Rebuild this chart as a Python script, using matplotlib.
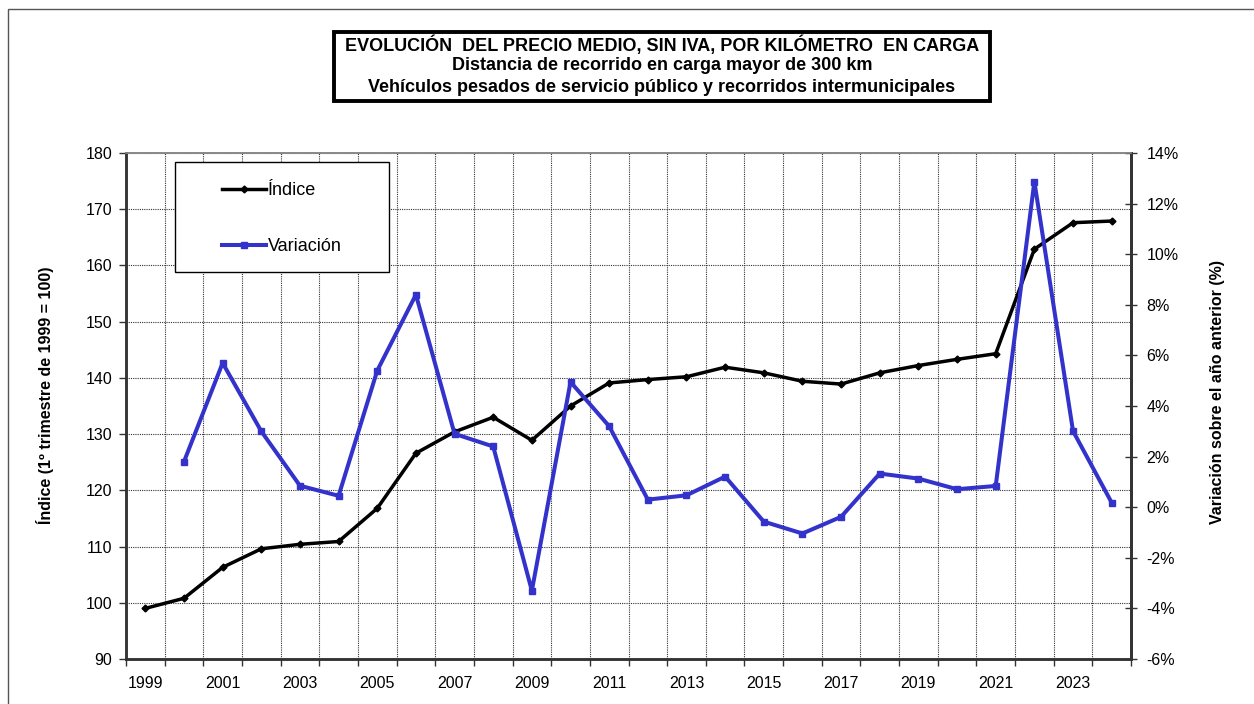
import matplotlib
matplotlib.use("Agg")
import matplotlib.pyplot as plt
from matplotlib import font_manager
from matplotlib.patches import Rectangle
from matplotlib.ticker import FuncFormatter, FixedLocator
import numpy as np

years = list(range(1999, 2025))
indice = [99.0, 100.8, 106.3, 109.6, 110.4, 110.9, 116.8, 126.6, 130.4, 133.0,
          128.9, 135.0, 139.1, 139.7, 140.2, 141.9, 140.9, 139.4, 138.9, 140.9,
          142.2, 143.3, 144.3, 162.9, 167.6, 167.9]
variacion = [np.nan, 1.8, 5.7, 3.0, 0.85, 0.45, 5.4, 8.4, 2.9, 2.4,
             -3.3, 4.95, 3.2, 0.3, 0.47, 1.21, -0.57, -1.04, -0.38, 1.33,
             1.13, 0.71, 0.84, 12.87, 3.01, 0.18]
title_lines = ["EVOLUCIÓN  DEL PRECIO MEDIO, SIN IVA, POR KILÓMETRO  EN CARGA",
               "Distancia de recorrido en carga mayor de 300 km",
               "Vehículos pesados de servicio público y recorridos intermunicipales"]
ylabel_left = "Índice (1º trimestre de 1999 = 100)"
ylabel_right = "Variación sobre el año anterior (%)"


def has_font(name):
    try:
        font_manager.findfont(name, fallback_to_default=False)
        return True
    except Exception:
        return False

base = "Liberation Sans" if has_font("Liberation Sans") else "DejaVu Sans"
narrow = "Liberation Sans Narrow" if has_font("Liberation Sans Narrow") else base
plt.rcParams['font.family'] = [base, 'DejaVu Sans']

W, H = 1254, 704
fig = plt.figure(figsize=(W / 100, H / 100), dpi=100)

# outer chart border
fig.patches.append(Rectangle((8 / W, -0.1), 1.2, 1.1 - 9 / H, transform=fig.transFigure,
                             fill=False, edgecolor="#555555", linewidth=1.0))

left, right, top, bottom = 126, 1131, 153, 659
ax = fig.add_axes([left / W, 1 - bottom / H, (right - left) / W, (bottom - top) / H])
ax2 = ax.twinx()

x = np.arange(len(years))

ax.plot(x, indice, color="black", lw=2.5, marker="D", ms=3.5, label="Índice", zorder=3)
ax2.plot(x, variacion, color="#3333CC", lw=2.9, marker="s", ms=4.5, label="Variación", zorder=3)

ax.set_xlim(-0.5, len(years) - 0.5)
ax.set_ylim(90, 180)
ax.set_yticks(np.arange(90, 181, 10))
ax2.set_ylim(-6, 14)
ax2.set_yticks(np.arange(-6, 15, 2))
ax2.yaxis.set_major_formatter(FuncFormatter(lambda v, p: f"{v:.0f}%"))

ax.set_xticks(x[::2])
ax.set_xticklabels([str(y) for y in years[::2]])
ax.xaxis.set_minor_locator(FixedLocator(np.arange(-0.5, len(years), 1.0)))
ax.tick_params(axis="x", which="major", length=0, pad=12, labelsize=11.5)
ax.tick_params(axis="x", which="minor", length=5, width=1, direction="out", color="#333333")
ax.tick_params(axis="y", which="major", length=5, width=1, direction="out", labelsize=11.5, pad=5,
               color="#333333")
ax2.tick_params(axis="y", which="major", length=8, width=1, direction="inout", labelsize=11.5, pad=7,
                color="#333333")

ax.grid(True, axis="y", which="major", linestyle=(0, (1, 1)), color="#333333", lw=0.8)
ax.grid(True, axis="x", which="minor", linestyle=(0, (1, 1)), color="#333333", lw=0.8)
ax.set_axisbelow(True)

for a in (ax, ax2):
    a.spines["left"].set_color("#333333")
    a.spines["left"].set_linewidth(1.8)
    a.spines["bottom"].set_color("#333333")
    a.spines["bottom"].set_linewidth(1.8)
    a.spines["right"].set_color("#333333")
    a.spines["right"].set_linewidth(2.0)
    a.spines["top"].set_color("#888888")
    a.spines["top"].set_linewidth(1.2)

ax.set_ylabel(ylabel_left, fontsize=11.5, fontweight="bold", family=[narrow, 'DejaVu Sans'])
ax2.set_ylabel(ylabel_right, fontsize=11.5, fontweight="bold", family=[narrow, 'DejaVu Sans'])
ax.yaxis.set_label_coords((54 - left) / (right - left), (bottom - 395) / (bottom - top))
ax2.yaxis.set_label_coords((1210 - left) / (right - left), (bottom - 392) / (bottom - top))

# legend box
lx0, lx1, ly0, ly1 = 175, 389, 162, 272
ax2.add_patch(Rectangle(((lx0 - left) / (right - left), (bottom - ly1) / (bottom - top)),
                        (lx1 - lx0) / (right - left), (ly1 - ly0) / (bottom - top),
                        transform=ax2.transAxes, facecolor="white", edgecolor="black",
                        linewidth=1.0, zorder=5))
h1, l1 = ax.get_legend_handles_labels()
h2, l2 = ax2.get_legend_handles_labels()
leg = ax2.legend(h1 + h2, l1 + l2, loc="upper left",
                 bbox_to_anchor=((217 - left) / (right - left), (bottom - 177) / (bottom - top)),
                 frameon=False, fontsize=13, labelspacing=2.15, handlelength=2.4,
                 handletextpad=0.1, borderpad=0.3, borderaxespad=0)
leg.set_zorder(6)

# title box
tx0, tx1, ty0, ty1 = 334, 990, 32, 101
fig.patches.append(Rectangle((tx0 / W, 1 - ty1 / H), (tx1 - tx0) / W, (ty1 - ty0) / H,
                             transform=fig.transFigure, fill=False, edgecolor="black", linewidth=2.8))
for ty, line in zip([45, 66, 88], title_lines):
    fig.text(662 / W, 1 - ty / H, line, ha="center", va="center", fontsize=13,
             fontweight="bold", family=[narrow, 'DejaVu Sans'])

fig.savefig("out.png", dpi=100)
